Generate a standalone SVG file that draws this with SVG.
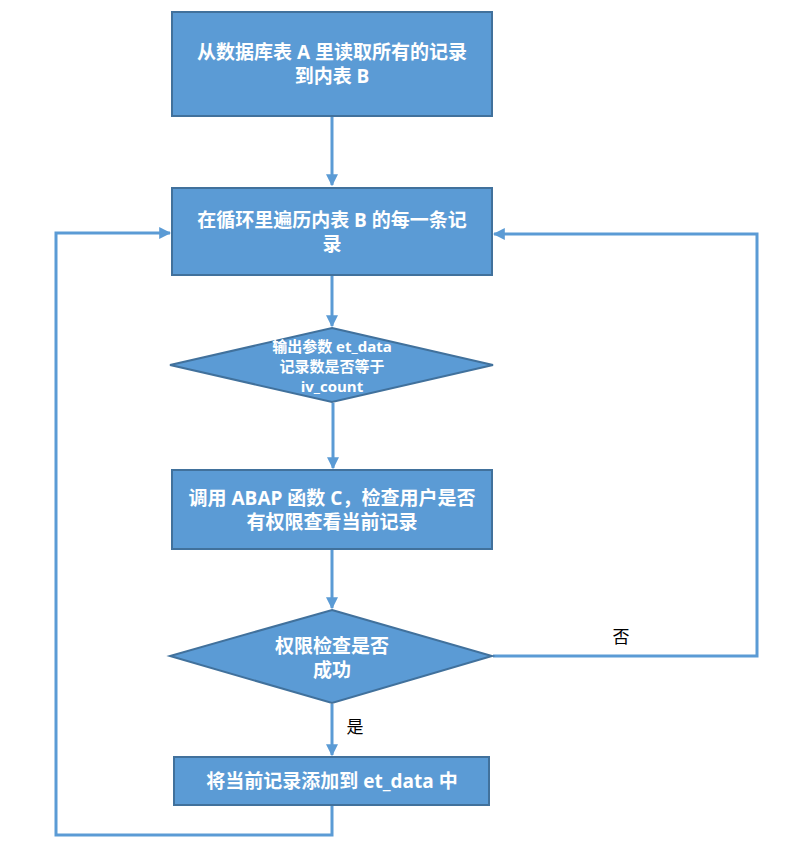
<svg xmlns="http://www.w3.org/2000/svg" width="794" height="852" viewBox="0 0 794 852">
<defs>
<style>
.box{fill:#5B9BD5;stroke:#41719C;stroke-width:2}
.t{fill:#fff;font-family:"Open Sans","Noto Sans CJK SC",sans-serif;font-weight:bold;font-size:19px;text-anchor:middle}
.ts{font-size:15px}
.c{fill:none;stroke:#5B9BD5;stroke-width:3;marker-end:url(#ah)}
.lbl{fill:#000;font-family:"Noto Sans CJK SC",sans-serif;font-size:17px;text-anchor:middle}
</style>
<marker id="ah" viewBox="0 0 10 10" refX="9" refY="5" markerWidth="4" markerHeight="4" orient="auto" markerUnits="strokeWidth">
<path d="M0,0 L10,5 L0,10 z" fill="#5B9BD5"/>
</marker>
</defs>
<rect width="794" height="852" fill="#fff"/>
<g id="connectors">
<path class="c" d="M332,117 V185"/>
<path class="c" d="M332,276 V326"/>
<path class="c" d="M333,403 V468"/>
<path class="c" d="M332,550 V608"/>
<path class="c" d="M332,704 V755"/>
<path class="c" d="M332,806 V835 H56 V233 H170"/>
<path class="c" d="M493,656 H757 V234 H494"/>
<text class="lbl" x="621" y="643">否</text>
<text class="lbl" x="355" y="733">是</text>
</g>
<g id="n1">
<rect class="box" x="172" y="12" width="320" height="104"/>
<text class="t" x="332" y="59">从数据库表 A 里读取所有的记录</text>
<text class="t" x="332" y="83">到内表 B</text>
</g>
<g id="n2">
<rect class="box" x="172" y="188" width="320" height="87"/>
<text class="t" x="332" y="227">在循环里遍历内表 B 的每一条记</text>
<text class="t" x="332" y="251">录</text>
</g>
<g id="n3">
<polygon class="box" points="332,328 493,365 332,402 170,365"/>
<text class="t ts" x="332" y="352">输出参数 et_data</text>
<text class="t ts" x="332" y="372">记录数是否等于</text>
<text class="t ts" x="332" y="392">iv_count</text>
</g>
<g id="n4">
<rect class="box" x="172" y="470" width="320" height="79"/>
<text class="t" x="332" y="505">调用 ABAP 函数 C，检查用户是否</text>
<text class="t" x="332" y="529">有权限查看当前记录</text>
</g>
<g id="n5">
<polygon class="box" points="332,610 492,656 332,703 170,656"/>
<text class="t" x="332" y="653">权限检查是否</text>
<text class="t" x="332" y="677">成功</text>
</g>
<g id="n6">
<rect class="box" x="174" y="757" width="315" height="48"/>
<text class="t" x="332" y="788">将当前记录添加到 et_data 中</text>
</g>
</svg>
